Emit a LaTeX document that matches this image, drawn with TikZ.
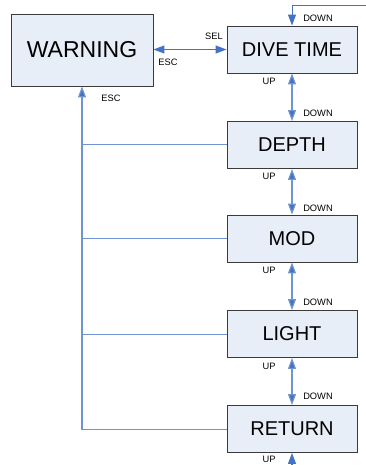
\documentclass[tikz,border=0pt]{standalone}
\usepackage{fontspec}
\setmainfont{Liberation Sans}
\usetikzlibrary{arrows.meta}
\definecolor{lineblue}{HTML}{6F95D0}
\definecolor{tipblue}{HTML}{4472C4}
\definecolor{boxfill}{HTML}{E8EEF7}
\definecolor{boxdraw}{HTML}{3A3A3A}
\tikzset{
  state/.style={draw=boxdraw, fill=boxfill, line width=0.9pt, minimum width=130pt, minimum height=47pt, inner sep=0pt, font=\fontsize{20}{22}\selectfont},
  lbl/.style={font=\fontsize{9.3}{10}\selectfont, inner sep=0pt},
  link/.style={draw=lineblue, line width=1.2pt},
  thin link/.style={draw=lineblue, line width=1pt},
  tip/.style={-{Triangle[width=8pt,length=11pt,fill=tipblue]}},
  tips/.style={{Triangle[width=8pt,length=11pt,fill=tipblue]}-{Triangle[width=8pt,length=11pt,fill=tipblue]}}
}
\begin{document}
\begin{tikzpicture}[x=1pt,y=-1pt]
\useasboundingbox (0,0) rectangle (366,465);
\node[state, minimum width=142pt, minimum height=72pt, font=\fontsize{23}{25}\selectfont] (warning) at (82,50) {WARNING};
\node[state] (dive) at (292,49.5) {DIVE TIME};
\node[state] (depth) at (292,145) {DEPTH};
\node[state] (mod) at (292,238.5) {MOD};
\node[state] (light) at (292,334) {LIGHT};
\node[state] (ret) at (292,429) {RETURN};
\coordinate (topright) at (366,6);
\coordinate (bottom) at (292,465);
\coordinate (corner) at (ret.west -| warning.south);
% top entry
\draw[thin link,tip,draw=tipblue] (topright) -| (dive.north);
% SEL/ESC
\draw[link,tips,draw=tipblue] (warning.east |- dive.west) -- (dive.west);
% vertical up/down
\draw[link,tips] (dive.south) -- (depth.north);
\draw[link,tips] (depth.south) -- (mod.north);
\draw[link,tips] (mod.south) -- (light.north);
\draw[link,tips] (light.south) -- (ret.north);
\draw[link,tip,draw=tipblue] (bottom) -- (ret.south);
% ESC back
\draw[thin link] (ret.west) -- (corner);
\draw[link, tip] ([yshift=-0.5pt]corner) -- (warning.south);
\draw[thin link] (depth.west) -- (depth.west -| warning.south);
\draw[thin link] (mod.west) -- (mod.west -| warning.south);
\draw[thin link] (light.west) -- (light.west -| warning.south);
% labels
\node[lbl] (d0) at (318,18) {DOWN};
\node[lbl] (sel) at (214,36) {SEL};
\node[lbl] (esc1) at (168,62) {ESC};
\node[lbl] (esc2) at (111,98) {ESC};
\node[lbl] (u1) at (269,81) {UP};
\node[lbl] (d1) at (318,113) {DOWN};
\node[lbl] (u2) at (269,176) {UP};
\node[lbl] (d2) at (318,208) {DOWN};
\node[lbl] (u3) at (269,270) {UP};
\node[lbl] (d3) at (318,302) {DOWN};
\node[lbl] (u4) at (269,366) {UP};
\node[lbl] (d4) at (318,396) {DOWN};
\node[lbl] (u5) at (269,459) {UP};
\end{tikzpicture}
\end{document}
